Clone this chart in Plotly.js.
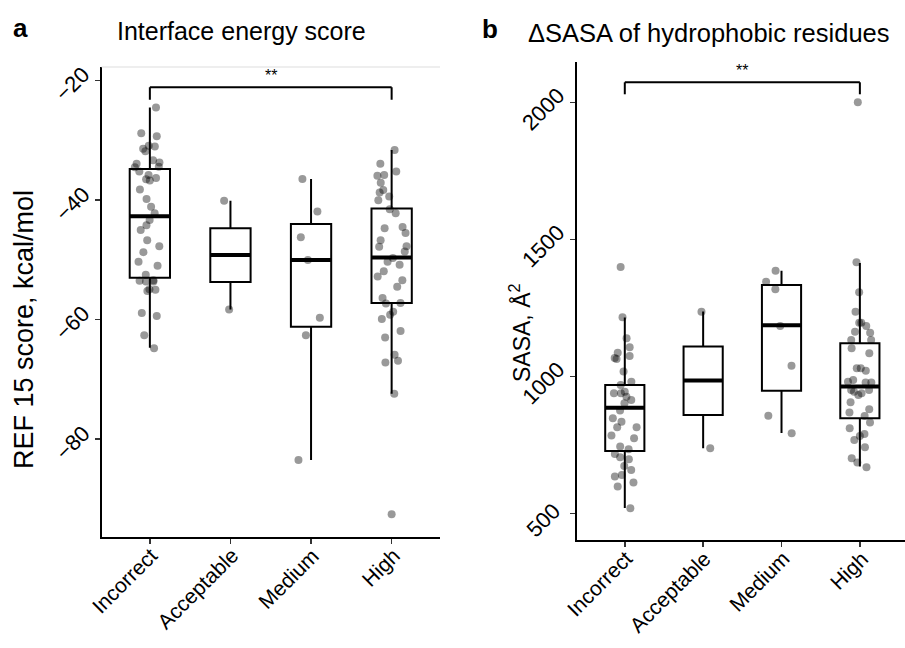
<!DOCTYPE html>
<html>
<head>
<meta charset="utf-8">
<script src="https://cdn.plot.ly/plotly-3.0.1.min.js"></script>
<style>html,body{margin:0;padding:0;background:#fff;}#chart{width:905px;height:648px;}</style>
</head>
<body>
<div id="chart"></div>
<script>
// ---------- data ----------
const categories = ['Incorrect', 'Acceptable', 'Medium', 'High'];

// Panel a: interface energy (REF15, kcal/mol) per model
const energyIncorrect = [-24.5, -28.8, -29.3, -31.0, -30.9, -31.8, -31.4, -33.3, -33.9, -33.7, -34.4, -34.5, -35.2, -35.8, -36.3, -36.7, -36.5, -38.2, -39.8, -41.1, -42.2, -43.3, -44.2, -45.0, -46.7, -47.7, -48.7, -50.3, -51.0, -52.5, -53.4, -53.6, -53.5, -53.6, -54.9, -55.0, -55.2, -59.4, -58.9, -62.6, -64.8];
const energyAcceptable = [-40.1, -58.3];
const energyMedium = [-36.45, -41.9, -46.2, -50.0, -59.7, -62.6, -83.5];
const energyHigh = [-31.6, -33.9, -35.2, -35.9, -35.8, -37.1, -38.3, -38.7, -39.4, -40.0, -41.5, -42.2, -44.5, -44.7, -45.5, -46.7, -47.8, -47.7, -48.6, -49.7, -50.3, -50.8, -51.9, -52.8, -53.4, -54.5, -56.4, -57.2, -57.3, -58.7, -59.2, -59.9, -61.9, -63.0, -65.9, -67.2, -66.9, -72.4, -92.6];

// Panel a box statistics (per category)
const energyQ1 = [-53.0, -53.7, -61.2, -57.2];
const energyMedian = [-42.7, -49.2, -50.0, -49.6];
const energyQ3 = [-34.8, -44.7, -44.0, -41.4];
const energyLower = [-64.7, -58.3, -83.5, -72.4];
const energyUpper = [-24.5, -40.1, -36.45, -31.6];
const energyTicks = [-80, -60, -40, -20];

// Panel b: delta SASA of hydrophobic residues (A^2)
const sasaIncorrect = [1400, 1216, 1139.5, 1106.6, 1086.9, 1074.9, 1063.9, 1067.6, 1017.6, 981, 969, 944.5, 938.6, 926.2, 938.6, 914, 902.1, 875.1, 847.3, 814.4, 834.9, 814.4, 774.3, 783.8, 743.6, 734.1, 716.9, 704.8, 697.6, 673.1, 658.5, 640.3, 634.1, 612.2, 597.6, 518.7];
const sasaAcceptable = [1236.7, 737.8];
const sasaMedium = [1386.4, 1346.3, 1318.5, 1184.4, 1039.4, 856.8, 792.6];
const sasaHigh = [2001.5, 1417, 1307.5, 1236.7, 1196.5, 1196.5, 1184.4, 1163.6, 1160, 1133.3, 1133.3, 1103, 1084.7, 1021.2, 1030, 1030, 987.3, 977.4, 977.4, 981, 938.6, 932.5, 944.5, 950.7, 950.7, 905.7, 880, 867.8, 855.6, 831.3, 810.8, 790, 782.7, 768.1, 741.4, 701.3, 685.2, 668.4];

// Panel b box statistics
const sasaQ1 = [728, 859, 948, 847];
const sasaMedian = [886, 985, 1187, 963];
const sasaQ3 = [969, 1109, 1334, 1121];
const sasaLower = [519, 738, 793, 671];
const sasaUpper = [1215, 1237, 1386, 1414];
const sasaTicks = [500, 1000, 1500, 2000];

// significance brackets (Incorrect vs High)
const sigLabel = '**';
const energyBracket = {top: -21.1, end: -23.2};
const sasaBracket = {top: 2074.5, end: 2030.7};

// ---------- build ----------
function flatten(groups) {
  const xs = [], ys = [];
  groups.forEach((g, i) => g.forEach(v => { xs.push(categories[i]); ys.push(v); }));
  return {xs, ys};
}

function boxTraces(q1, med, q3, lo, hi, xa, ya) {
  const box = {
    type: 'box', x: categories, q1: q1, median: med, q3: q3,
    lowerfence: lo, upperfence: hi, width: 0.5,
    boxpoints: false, fillcolor: '#ffffff',
    line: {color: '#000000', width: 2}, whiskerwidth: 0,
    xaxis: xa, yaxis: ya, hoverinfo: 'skip'
  };
  const medLine = {
    type: 'box', x: categories, q1: med, median: med, q3: med,
    lowerfence: med, upperfence: med, width: 0.5,
    boxpoints: false, fillcolor: 'rgba(0,0,0,0)',
    line: {color: '#000000', width: 4}, whiskerwidth: 0,
    xaxis: xa, yaxis: ya, hoverinfo: 'skip'
  };
  return [box, medLine];
}

function pointTrace(groups, xa, ya) {
  const f = flatten(groups);
  return {
    type: 'box', x: f.xs, y: f.ys, width: 0.5,
    boxpoints: 'all', jitter: 0.8, pointpos: 0,
    fillcolor: 'rgba(0,0,0,0)', line: {color: 'rgba(0,0,0,0)', width: 0},
    marker: {color: 'rgba(0,0,0,0.4)', size: 8, line: {width: 0}},
    xaxis: xa, yaxis: ya, hoverinfo: 'skip'
  };
}

const data = [].concat(
  boxTraces(energyQ1, energyMedian, energyQ3, energyLower, energyUpper, 'x', 'y'),
  [pointTrace([energyIncorrect, energyAcceptable, energyMedium, energyHigh], 'x', 'y')],
  boxTraces(sasaQ1, sasaMedian, sasaQ3, sasaLower, sasaUpper, 'x2', 'y2'),
  [pointTrace([sasaIncorrect, sasaAcceptable, sasaMedium, sasaHigh], 'x2', 'y2')]
);

const FONT = 'Liberation Sans, Arial, Helvetica, sans-serif';
const W = 905, H = 648;
const TICKFONT = {family: FONT, size: 22, color: '#000'};
const XTICKFONT = {family: FONT, size: 21, color: '#000'};

const xBase = {
  type: 'category', categoryorder: 'array', categoryarray: categories,
  showline: true, linecolor: '#000', linewidth: 2,
  ticks: 'outside', ticklen: 5, tickwidth: 1.5, tickcolor: '#333',
  showticklabels: false,
  showgrid: false, zeroline: false, fixedrange: true
};
const yBase = {
  showline: true, linecolor: '#000', linewidth: 2,
  ticks: 'outside', ticklen: 5, tickwidth: 1.5, tickcolor: '#333',
  showticklabels: false,
  showgrid: false, zeroline: false, fixedrange: true
};

function bracket(xa, ya, b) {
  const s = {type: 'line', xref: xa, yref: ya, line: {color: '#000', width: 2}};
  return [
    Object.assign({}, s, {x0: categories[0], x1: categories[0], y0: b.end, y1: b.top}),
    Object.assign({}, s, {x0: categories[0], x1: categories[3], y0: b.top, y1: b.top}),
    Object.assign({}, s, {x0: categories[3], x1: categories[3], y0: b.end, y1: b.top})
  ];
}

function yTickLabels(ticks, ya, xCenter, shift) {
  return ticks.map(v => ({
    text: String(v).replace('-', '\u2212'), xref: 'paper', yref: ya,
    x: xCenter / W, y: v, yshift: shift, textangle: -45, showarrow: false,
    xanchor: 'center', yanchor: 'middle', font: TICKFONT
  }));
}

function xTickLabels(xa, topPx) {
  return categories.map(c => ({
    text: c, xref: xa, yref: 'paper', x: c, y: (H - topPx) / H,
    xanchor: 'right', yanchor: 'top', xshift: 15, textangle: -45,
    showarrow: false, font: XTICKFONT
  }));
}

const layout = {
  width: W, height: H,
  margin: {l: 0, r: 0, t: 0, b: 0},
  paper_bgcolor: '#fff', plot_bgcolor: 'rgba(0,0,0,0)',
  showlegend: false, boxmode: 'overlay',
  font: {family: FONT, color: '#000'},
  xaxis: Object.assign({}, xBase, {domain: [101.5 / W, 440 / W], anchor: 'y', range: [-0.6, 3.6]}),
  yaxis: Object.assign({}, yBase, {domain: [(H - 537) / H, (H - 67) / H], anchor: 'x', range: [-96.4, -17.7], tickvals: energyTicks}),
  xaxis2: Object.assign({}, xBase, {domain: [577 / W, 1], anchor: 'y2', range: [-0.61, 3.576]}),
  yaxis2: Object.assign({}, yBase, {domain: [(H - 540) / H, (H - 62) / H], anchor: 'x2', range: [402.5, 2148.6], tickvals: sasaTicks}),
  shapes: [
    {type: 'line', xref: 'x domain', yref: 'y domain', x0: 0, x1: 1, y0: 1, y1: 1, line: {color: '#dddddd', width: 1}}
  ].concat(bracket('x', 'y', energyBracket), bracket('x2', 'y2', sasaBracket)),
  annotations: [
    {text: '<b>a</b>', xref: 'paper', yref: 'paper', x: 20 / W, y: (H - 28) / H, showarrow: false, font: {size: 26, family: FONT}, xanchor: 'center', yanchor: 'middle'},
    {text: '<b>b</b>', xref: 'paper', yref: 'paper', x: 490 / W, y: (H - 29) / H, showarrow: false, font: {size: 26, family: FONT}, xanchor: 'center', yanchor: 'middle'},
    {text: 'Interface energy score', xref: 'paper', yref: 'paper', x: 241.5 / W, y: (H - 31) / H, showarrow: false, font: {size: 25, family: FONT}, xanchor: 'center', yanchor: 'middle'},
    {text: 'ΔSASA of hydrophobic residues', xref: 'paper', yref: 'paper', x: 709 / W, y: (H - 33) / H, showarrow: false, font: {size: 25.5, family: FONT}, xanchor: 'center', yanchor: 'middle'},
    {text: 'REF 15 score, kcal/mol', xref: 'paper', yref: 'paper', x: 24 / W, y: (H - 330) / H, textangle: -90, showarrow: false, font: {size: 27, family: FONT}, xanchor: 'center', yanchor: 'middle'},
    {text: 'SASA, Å<sup>2</sup>', xref: 'paper', yref: 'paper', x: 520 / W, y: (H - 333) / H, textangle: -90, showarrow: false, font: {size: 23, family: FONT}, xanchor: 'center', yanchor: 'middle'},
    {text: sigLabel, xref: 'x', yref: 'y', x: 1.5, y: energyBracket.top, yanchor: 'bottom', yshift: 1, showarrow: false, font: {size: 16, family: FONT}},
    {text: sigLabel, xref: 'x2', yref: 'y2', x: 1.5, y: sasaBracket.top, yanchor: 'bottom', yshift: 1, showarrow: false, font: {size: 16, family: FONT}}
  ].concat(
    yTickLabels(energyTicks, 'y', 72, -4),
    yTickLabels(sasaTicks, 'y2', 543, -7),
    xTickLabels('x', 541),
    xTickLabels('x2', 544)
  )
};

Plotly.newPlot('chart', data, layout, {staticPlot: true, displayModeBar: false});
</script>
</body>
</html>
